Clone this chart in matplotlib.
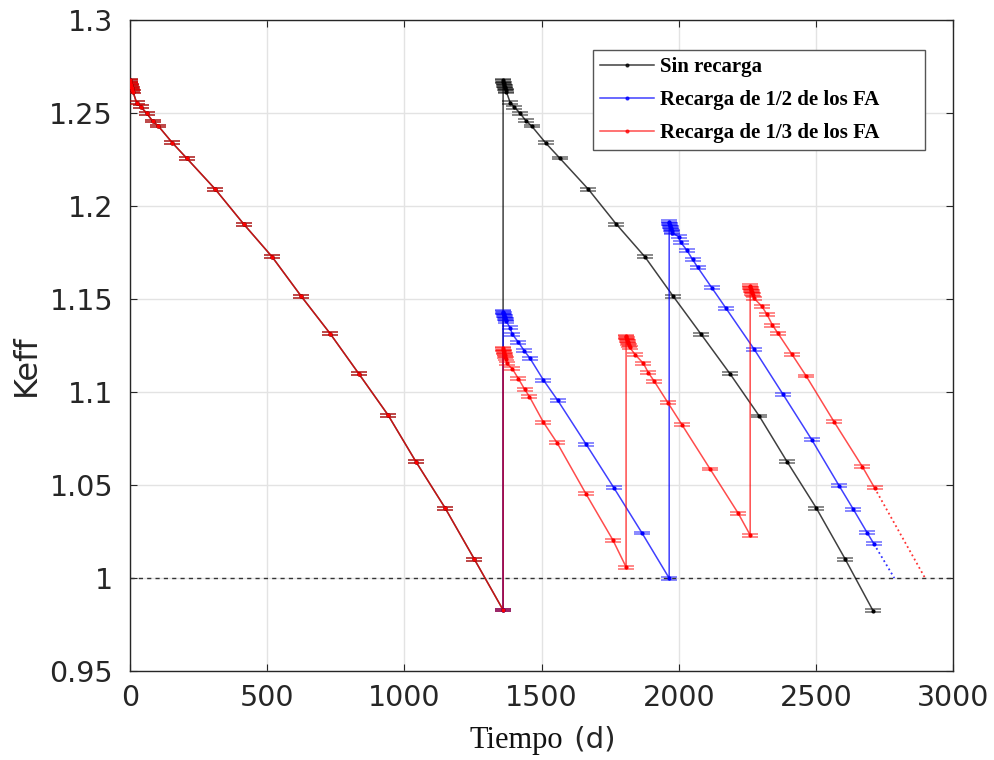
import matplotlib
matplotlib.use("Agg")
import matplotlib.pyplot as plt
from matplotlib.lines import Line2D
import numpy as np

# ciclo 1 (comun a las tres series)
t_c1 = [0, 1, 2, 4, 6, 8, 10, 12, 25, 40, 62, 83, 104, 155, 208, 311, 415, 519,
        624, 730, 835, 941, 1043, 1149, 1255, 1360]
k_c1 = [1.2675, 1.2668, 1.2660, 1.2650, 1.2641, 1.2632, 1.2622, 1.2614, 1.2555,
        1.2534, 1.2498, 1.2457, 1.2430, 1.2340, 1.2256, 1.2091, 1.1903, 1.1726,
        1.1516, 1.1314, 1.1097, 1.0876, 1.0624, 1.0376, 1.0102, 0.9828]

# sin recarga: segundo ciclo con nucleo fresco
t_sin2 = [1360, 1361, 1362, 1364, 1366, 1368, 1370, 1372, 1386, 1401, 1422, 1443,
          1464, 1515, 1566, 1670, 1772, 1877, 1979, 2081, 2187, 2293, 2395, 2501,
          2606, 2708]
k_sin2 = [1.2675, 1.2668, 1.2660, 1.2650, 1.2641, 1.2632, 1.2622, 1.2614, 1.2555,
          1.2532, 1.2498, 1.2458, 1.2430, 1.2339, 1.2258, 1.2091, 1.1903, 1.1726,
          1.1516, 1.1311, 1.1097, 1.0871, 1.0624, 1.0376, 1.0102, 0.9823]

# recarga de 1/2
t_med2 = [1360, 1361, 1362, 1364, 1366, 1368, 1370, 1372, 1385, 1394, 1416, 1437,
          1458, 1507, 1559, 1662, 1764, 1866, 1965]
k_med2 = [1.1432, 1.1426, 1.1420, 1.1412, 1.1404, 1.1396, 1.1388, 1.1380, 1.1346,
          1.1310, 1.1267, 1.1222, 1.1181, 1.1064, 1.0955, 1.0720, 1.0484, 1.0242,
          0.9999]
t_med3 = [1965, 1966, 1967, 1969, 1971, 1973, 1975, 1977, 1999, 2007, 2029, 2050,
          2069, 2120, 2172, 2275, 2379, 2485, 2584, 2636, 2686, 2711]
k_med3 = [1.1915, 1.1908, 1.1900, 1.1892, 1.1883, 1.1874, 1.1865, 1.1856, 1.1835,
          1.1805, 1.1763, 1.1713, 1.1670, 1.1561, 1.1450, 1.1229, 1.0989, 1.0742,
          1.0496, 1.0369, 1.0244, 1.0183]
t_med_ext = [2711, 2785]
k_med_ext = [1.0183, 1.0]

# recarga de 1/3
t_ter2 = [1360, 1361, 1362, 1364, 1366, 1368, 1370, 1373, 1394, 1416, 1438, 1456,
          1507, 1557, 1662, 1760, 1808]
k_ter2 = [1.1235, 1.1228, 1.1220, 1.1210, 1.1200, 1.1190, 1.1178, 1.1154, 1.1124,
          1.1071, 1.1016, 1.0975, 1.0837, 1.0726, 1.0452, 1.0204, 1.0059]
t_ter3 = [1808, 1809, 1810, 1812, 1814, 1816, 1818, 1821, 1842, 1871, 1889, 1910,
          1961, 2012, 2114, 2216, 2260]
k_ter3 = [1.1300, 1.1293, 1.1286, 1.1278, 1.1270, 1.1261, 1.1252, 1.1240, 1.1199,
          1.1154, 1.1104, 1.1059, 1.0941, 1.0823, 1.0586, 1.0349, 1.0231]
t_ter4 = [2260, 2261, 2262, 2264, 2266, 2268, 2270, 2273, 2302, 2321, 2341, 2361,
          2412, 2464, 2566, 2669, 2713]
k_ter4 = [1.1570, 1.1563, 1.1556, 1.1548, 1.1540, 1.1531, 1.1522, 1.1505, 1.1462,
          1.1418, 1.1360, 1.1316, 1.1203, 1.1086, 1.0839, 1.0598, 1.0485]
t_ter_ext = [2713, 2897]
k_ter_ext = [1.0485, 1.0]

err = 0.0008
labels = ["Sin recarga", "Recarga de 1/2 de los FA", "Recarga de 1/3 de los FA"]

# la serie azul se dibuja desde el final del ciclo 1 (debajo de la roja)
series = [
    (t_c1 + t_sin2, k_c1 + k_sin2, "black", 0.75),
    (t_c1[-1:] + t_med2 + t_med3, k_c1[-1:] + k_med2 + k_med3, "#0000ff", 0.75),
    (t_c1 + t_ter2 + t_ter3 + t_ter4, k_c1 + k_ter2 + k_ter3 + k_ter4, "#ff0000", 0.7),
]

fig = plt.figure(figsize=(9.95, 7.6), dpi=100)
ax = fig.add_axes([0.1304, 0.1171, 0.8277, 0.8566])

for t, k, c, a in series:
    ax.plot(t, k, "-", color=c, lw=1.1, alpha=a, zorder=3)
    ax.errorbar(t, k, yerr=err, fmt="none", ecolor=c, elinewidth=1,
                capsize=6, capthick=1.3, alpha=0.5, zorder=3)
    ax.plot(t, k, ".", color=c, ms=4, zorder=4)

ax.plot(t_med_ext, k_med_ext, ":", color="#0000ff", lw=1.3, alpha=0.8)
ax.plot(t_ter_ext, k_ter_ext, ":", color="#ff0000", lw=1.3, alpha=0.8)
ax.axhline(1.0, color="#333333", lw=1, ls=(0, (3, 3)), zorder=2)

ax.set_xlim(0, 3000)
ax.set_ylim(0.95, 1.3)
ax.set_xticks(np.arange(0, 3001, 500))
ax.set_yticks([0.95, 1.0, 1.05, 1.1, 1.15, 1.2, 1.25, 1.3])
ax.set_yticklabels(["0.95", "1", "1.05", "1.1", "1.15", "1.2", "1.25", "1.3"])
ax.grid(True, color="#e3e3e3", lw=1)
ax.set_axisbelow(True)
ax.tick_params(direction="in", length=5, labelsize=20.5, colors="#262626",
               top=True, right=True)
ax.tick_params(axis="y", pad=12)
ax.tick_params(axis="x", pad=9)
for s in ax.spines.values():
    s.set_color("#262626")
    s.set_linewidth(1)

ax.set_ylabel("Keff", fontsize=23, color="#262626", labelpad=8)
ax.yaxis.set_label_coords(-0.107, 0.47)
fig.text(0.566, 0.016, "Tiempo", fontsize=22, family="Liberation Serif",
         ha="right", va="baseline", color="#111111")
fig.text(0.568, 0.016, " (d)", fontsize=21, family="DejaVu Sans",
         ha="left", va="baseline", color="#262626")

handles = [Line2D([], [], color=c, lw=1.1, alpha=a, marker=".", ms=4,
                  markerfacecolor=c, markeredgecolor=c)
           for _, _, c, a in series]
leg = ax.legend(handles, labels, loc="upper left",
                bbox_to_anchor=(0.5625, 0.782, 0.4032, 0.172), mode="expand",
                borderaxespad=0, fancybox=False, framealpha=1,
                edgecolor="#555555", handlelength=2.6, handletextpad=0.25,
                labelspacing=0.62, borderpad=0.35,
                prop={"family": "Liberation Serif", "weight": "bold", "size": 15})
leg.get_frame().set_linewidth(1)

fig.savefig("out.png", dpi=100)
